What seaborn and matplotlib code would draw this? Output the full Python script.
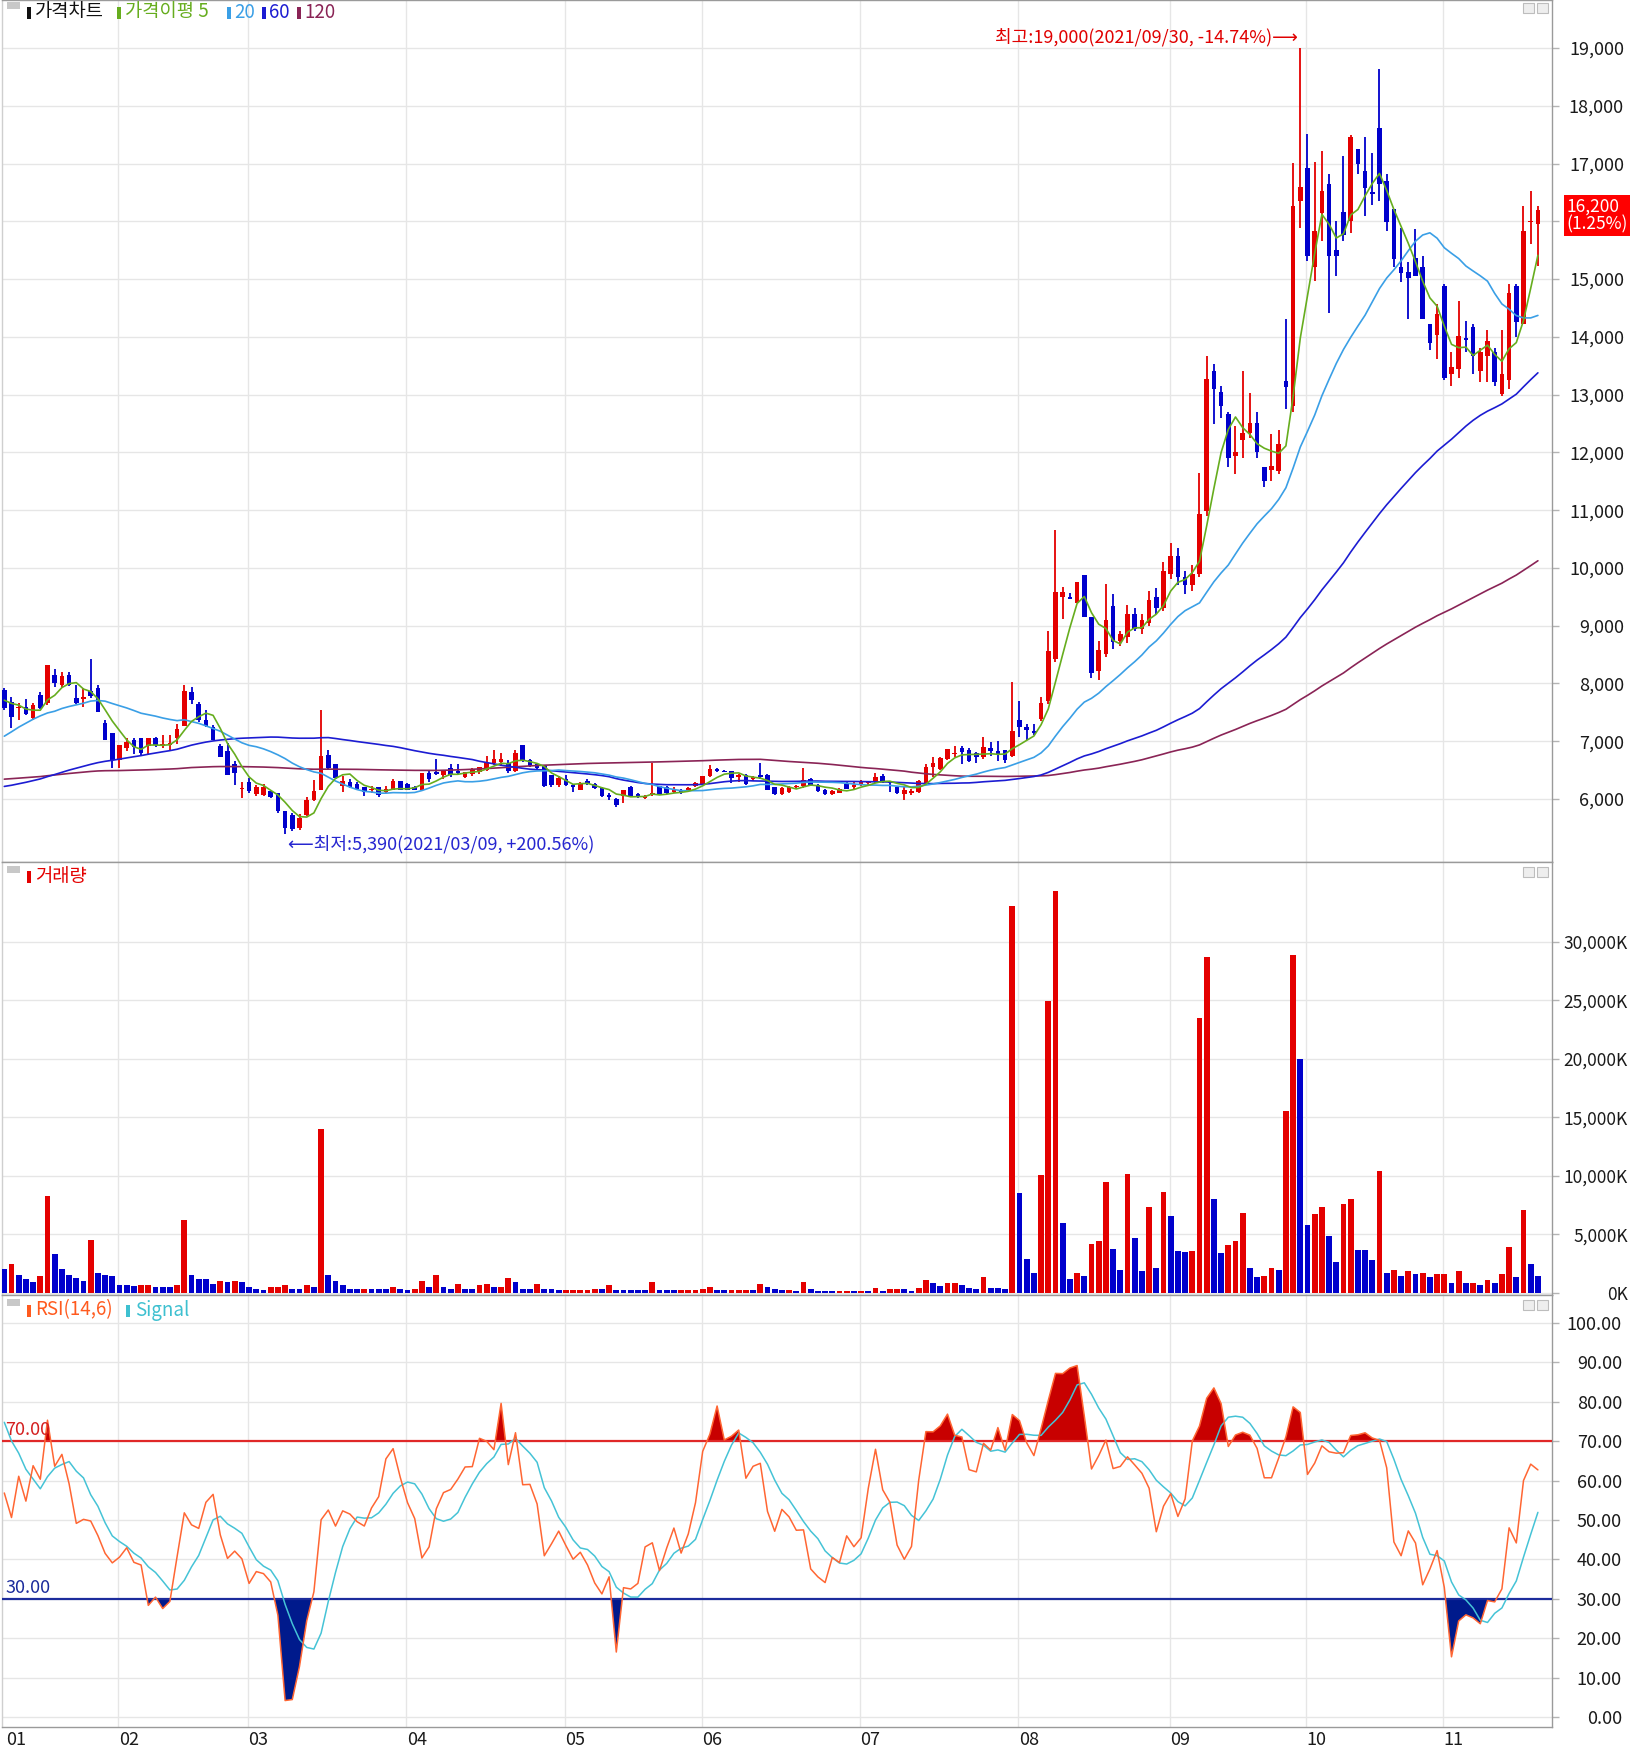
import numpy as np
import pandas as pd
import matplotlib
matplotlib.use("Agg")
import matplotlib.pyplot as plt
import matplotlib.transforms as mtrans
from matplotlib.patches import Rectangle
import seaborn as sns

sns.set_theme(style="white")
plt.rcParams["font.family"] = ["Noto Sans CJK KR", "DejaVu Sans"]
plt.rcParams["axes.unicode_minus"] = False

# ---------------- data ----------------
month_labels = ["01", "02", "03", "04", "05", "06", "07", "08", "09", "10", "11"]
month_days = [16, 18, 22, 22, 19, 22, 22, 21, 19, 19, 14]

# closes before the visible window (Jul-Dec 2020), estimated from the indicator start levels
prior_close = [
    6500, 6450, 6380, 6420, 6550, 6600, 6520, 6480, 6400, 6350,
    6300, 6380, 6450, 6520, 6600, 6680, 6620, 6550, 6500, 6470,
    6420, 6380, 6450, 6520, 6580, 6650, 6700, 6620, 6540, 6480,
    6430, 6400, 6350, 6420, 6480, 6550, 6500, 6450, 6400, 6380,
    6420, 6470, 6520, 6560, 6500, 6440, 6400, 6360, 6330, 6380,
    6430, 6480, 6520, 6470, 6420, 6380, 6350, 6400, 6450, 6500,
    6200, 6050, 5950, 5880, 5820, 5900, 5850, 5780, 5720, 5680,
    5750, 5800, 5720, 5650, 5600, 5680, 5750, 5700, 5640, 5600,
    5660, 5720, 5780, 5740, 5690, 5650, 5700, 5760, 5820, 5780,
    5730, 5700, 5760, 5830, 5880, 5850, 5800, 5860, 5920, 5980,
    5900, 6000, 6100, 6250, 6400, 7312, 7400, 7180, 7280, 7100,
    7180, 7050, 7300, 7250, 7500, 7700, 7750, 7800, 7730,
]

open_ = [
    # Jan
    7885, 7684, 7570, 7600, 7397, 7800, 7655, 8155, 7971, 8144, 7740, 7730, 7868, 7914, 7310, 7138,
    # Feb
    6678, 6891, 7023, 7052, 6925, 7063, 6925, 6940, 7052, 7270, 7845, 7638, 7368, 7253, 6925, 6833, 6603, 6170,
    # Mar
    6293, 6086, 6075, 6144, 6104, 5787, 5718, 5500, 5730, 5990, 6163, 6770, 6607, 6221, 6296, 6260, 6204, 6150,
    6204, 6130, 6163, 6320,
    # Apr
    6260, 6210, 6163, 6452, 6470, 6420, 6538, 6480, 6380, 6430, 6460, 6510, 6625, 6640, 6625, 6480, 6940, 6680,
    6600, 6567, 6411, 6250,
    # May
    6354, 6250, 6163, 6320, 6260, 6190, 6060, 6007, 6048, 6204, 6080, 6020, 6080, 6221, 6200, 6130, 6150, 6150, 6220,
    # Jun
    6261, 6394, 6527, 6490, 6480, 6380, 6423, 6340, 6420, 6423, 6200, 6080, 6120, 6200, 6221, 6350, 6250, 6160,
    6080, 6110, 6260, 6200,
    # Jul
    6250, 6270, 6296, 6406, 6300, 6205, 6089, 6110, 6118, 6274, 6550, 6522, 6695, 6780, 6880, 6850, 6800, 6735,
    6890, 6830, 6840, 6752,
    # Aug
    7369, 7250, 7180, 7386, 7690, 8424, 9490, 9490, 9386, 9882, 9156, 8222, 8510, 9345, 8740, 8800, 9200, 8950,
    9050, 9500, 9300,
    # Sep
    9900, 10200, 9850, 9700, 9900, 10990, 13410, 13050, 12660, 11930, 12210, 12340, 12500, 11750, 11700, 11680,
    13230, 12800, 16350,
    # Oct
    16925, 15200, 16150, 16650, 15510, 16160, 16000, 17250, 16870, 16500, 17620, 16700, 16220, 15200, 15120, 15370,
    15200, 14220, 14040,
    # Nov
    14880, 13350, 13450, 13980, 14170, 13410, 13670, 13740, 13010, 13250, 14880, 14220, 15990, 15950,
]

high_ = [
    7920, 7770, 7655, 7730, 7660, 7845, 8316, 8258, 8190, 8190, 7971, 7914, 8431, 7971, 7368, 7138,
    6937, 7050, 7050, 7060, 7060, 7080, 7110, 7100, 7290, 7971, 7943, 7680, 7540, 7280, 6960, 6965, 6650, 6290,
    6360, 6250, 6260, 6144, 6104, 5787, 5750, 5740, 6030, 6330, 7548, 6856, 6607, 6394, 6340, 6300, 6204, 6220,
    6204, 6230, 6340, 6320,
    6270, 6230, 6452, 6480, 6700, 6500, 6600, 6600, 6470, 6540, 6560, 6740, 6840, 6800, 6680, 6840, 6940, 6700,
    6620, 6567, 6420, 6400,
    6420, 6260, 6300, 6340, 6270, 6200, 6110, 6010, 6163, 6220, 6110, 6070, 6625, 6221, 6220, 6210, 6170, 6210, 6290,
    6400, 6590, 6540, 6500, 6480, 6440, 6440, 6400, 6630, 6430, 6210, 6200, 6230, 6250, 6540, 6360, 6260, 6170,
    6150, 6190, 6290, 6290,
    6330, 6310, 6450, 6430, 6310, 6215, 6200, 6180, 6330, 6610, 6720, 6720, 6868, 6920, 6910, 6880, 6810, 7080,
    6990, 7000, 6850, 8020,
    7700, 7300, 7300, 7772, 8902, 10654, 9674, 9570, 9749, 9882, 9156, 8730, 9720, 9550, 8900, 9350, 9300, 9200,
    9600, 9650, 10100,
    10440, 10350, 9950, 10050, 11650, 13670, 13530, 13150, 12700, 12460, 13410, 13020, 12700, 11750, 12320, 12380,
    14310, 17010, 19000,
    17510, 17030, 17220, 16810, 16010, 17130, 17500, 17250, 17460, 17180, 18630, 16810, 16220, 15890, 15300, 15860,
    15400, 14220, 14560,
    14910, 13730, 14620, 14270, 14220, 13800, 14110, 13800, 14110, 14910, 14910, 16260, 16520, 16260,
]

low_ = [
    7540, 7236, 7368, 7460, 7370, 7560, 7626, 7943, 7914, 7960, 7650, 7600, 7753, 7500, 7023, 6534,
    6534, 6830, 6780, 6750, 6760, 6900, 6880, 6850, 6960, 7270, 7650, 7340, 7250, 7023, 6736, 6408, 6247, 6020,
    6100, 6060, 6050, 6010, 5760, 5390, 5450, 5460, 5700, 5960, 6163, 6510, 6340, 6123, 6190, 6170, 6050, 6110,
    6030, 6100, 6150, 6150,
    6150, 6150, 6150, 6300, 6420, 6350, 6380, 6440, 6360, 6400, 6440, 6480, 6590, 6580, 6450, 6470, 6640, 6560,
    6520, 6200, 6200, 6210,
    6220, 6120, 6150, 6240, 6180, 6040, 5980, 5870, 5930, 6040, 6020, 6000, 6060, 6080, 6090, 6110, 6080, 6130, 6200,
    6250, 6380, 6460, 6460, 6280, 6290, 6250, 6320, 6350, 6150, 6070, 6070, 6110, 6190, 6190, 6230, 6120, 6070,
    6070, 6100, 6170, 6160,
    6230, 6240, 6270, 6280, 6130, 6080, 5990, 6070, 6100, 6240, 6380, 6500, 6680, 6720, 6600, 6640, 6620, 6700,
    6740, 6650, 6620, 6730,
    7080, 7020, 7100, 7350, 7650, 8380, 9110, 9460, 9386, 9156, 8100, 8060, 8450, 8600, 8650, 8700, 8900, 8850,
    9000, 9200, 9250,
    9800, 9700, 9550, 9600, 9850, 10900, 12490, 12600, 11740, 11620, 11900, 12250, 11900, 11400, 11500, 11630,
    12750, 12700, 15890,
    15310, 14970, 15660, 14420, 15050, 15660, 15800, 16820, 16090, 16290, 16350, 15830, 15200, 14950, 14300, 15050,
    14300, 13780, 13610,
    13250, 13150, 13290, 13730, 13350, 13210, 13210, 13150, 12980, 13090, 13990, 14220, 15600, 15230,
]

close_ = [
    7570, 7425, 7600, 7465, 7626, 7570, 8316, 8000, 8132, 7971, 7655, 7760, 7787, 7500, 7023, 6678,
    6937, 6983, 6908, 6793, 7052, 6937, 6960, 6960, 7213, 7868, 7713, 7368, 7270, 7023, 6736, 6408, 6448, 6190,
    6132, 6201, 6201, 6029, 5787, 5500, 5488, 5673, 5990, 6146, 6740, 6540, 6365, 6308, 6210, 6180, 6123, 6180,
    6065, 6170, 6320, 6163,
    6163, 6160, 6452, 6350, 6440, 6490, 6410, 6450, 6460, 6520, 6550, 6625, 6700, 6700, 6480, 6800, 6680, 6580,
    6540, 6220, 6238, 6365,
    6250, 6200, 6279, 6260, 6190, 6048, 6040, 5892, 6163, 6048, 6060, 6060, 6100, 6088, 6110, 6160, 6120, 6190, 6280,
    6394, 6527, 6480, 6470, 6365, 6420, 6261, 6380, 6380, 6163, 6090, 6190, 6210, 6220, 6336, 6250, 6140, 6080,
    6140, 6170, 6180, 6250,
    6290, 6290, 6377, 6308, 6280, 6100, 6159, 6140, 6320, 6562, 6620, 6712, 6868, 6800, 6820, 6654, 6720, 6896,
    6830, 6770, 6677, 7184,
    7242, 7200, 7150, 7657, 8556, 9576, 9576, 9470, 9749, 9156, 8176, 8580, 9098, 8711, 8855, 9200, 8950, 9100,
    9450, 9300, 9950,
    10200, 9850, 9700, 9900, 10930, 13265, 13090, 12800, 11900, 12010, 12340, 12500, 12000, 11510, 11760, 12150,
    13140, 16260, 16590,
    15400, 15830, 16520, 15400, 15400, 15770, 17460, 16990, 16580, 16470, 16640, 15990, 15340, 15110, 15010, 15050,
    14300, 13900, 14390,
    13290, 13470, 14010, 13950, 13670, 13730, 13920, 13210, 13350, 14760, 14260, 15830, 16000, 16200,
]

volume_k = [
    2060, 2490, 1570, 1170, 915, 1430, 8300, 3350, 2060, 1570,
    1290, 1030, 4500, 1690, 1570, 1430, 660, 650, 640, 660,
    670, 520, 510, 500, 660, 6200, 1540, 1170, 1160, 770,
    1030, 915, 1030, 915, 515, 370, 260, 515, 520, 660,
    370, 360, 660, 515, 14000, 1540, 1030, 660, 370, 360,
    370, 365, 360, 355, 515, 370, 260, 370, 1030, 515,
    1540, 515, 370, 770, 370, 365, 660, 770, 515, 520,
    1290, 915, 370, 365, 770, 370, 360, 260, 265, 270,
    275, 280, 370, 365, 660, 260, 255, 250, 245, 240,
    915, 260, 255, 250, 255, 260, 265, 370, 515, 260,
    255, 260, 265, 270, 260, 770, 515, 370, 260, 265,
    200, 965, 340, 200, 195, 190, 200, 205, 200, 210,
    200, 450, 200, 340, 345, 340, 200, 450, 1080, 850,
    600, 850, 855, 710, 450, 340, 1360, 450, 445, 340,
    33030, 8520, 2920, 1730, 10050, 24960, 34300, 5960, 1220, 1730,
    1480, 4170, 4430, 9510, 3800, 1990, 10170, 4690, 1850, 7360,
    2130, 8630, 6590, 3550, 3540, 3550, 23460, 28680, 8010, 3410,
    4060, 4430, 6840, 2130, 1360, 1480, 2130, 1990, 15530, 28830,
    19990, 5820, 6730, 7360, 4830, 2640, 7610, 8010, 3690, 3680,
    2780, 10420, 1730, 1990, 1480, 1870, 1620, 1730, 1360, 1620,
    1630, 850, 1870, 850, 860, 710, 1110, 850, 1620, 3920,
    1360, 7130, 2500, 1480,
]

n = sum(month_days)
for name, arr in [("open", open_), ("high", high_), ("low", low_), ("close", close_), ("vol", volume_k)]:
    if len(arr) != n:
        raise ValueError(f"{name} has {len(arr)} values, expected {n}")

# ---------------- derived ----------------
o = np.array(open_, float)
h = np.array(high_, float)
l = np.array(low_, float)
c = np.array(close_, float)
v = np.array(volume_k, float)
x = np.arange(n)
month_starts = np.concatenate([[0], np.cumsum(month_days)[:-1]])

allc = pd.Series(np.concatenate([prior_close, close_]).astype(float))
npre = len(prior_close)
ma = {w: allc.rolling(w).mean().to_numpy()[npre:] for w in (5, 20, 60, 120)}
d = allc.diff()
ag = d.clip(lower=0).rolling(14).mean()
al = (-d.clip(upper=0)).rolling(14).mean()
rsi_all = 100 * ag / (ag + al)
sig_all = rsi_all.rolling(6).mean()
rsi = rsi_all.to_numpy()[npre:]
sig = sig_all.to_numpy()[npre:]

RED = "#e40000"
BLUE = "#0000cc"
C5, C20, C60, C120 = "#66ad1e", "#3a9fe6", "#1c1cd2", "#8a2456"
GRID = "#e6e6e6"
SPINE = "#9a9a9a"

# ---------------- layout ----------------
W, H = 1630, 1751
fig = plt.figure(figsize=(W / 100, H / 100), dpi=100)
fig.patch.set_facecolor("white")


def fx(px):
    return px / W


def fy(py):
    return 1 - py / H


L, R = 2, 1552
ax_p = fig.add_axes([fx(L), fy(862), fx(R - L), 862 / H])
ax_v = fig.add_axes([fx(L), fy(1295), fx(R - L), (1295 - 862) / H], sharex=ax_p)
ax_r = fig.add_axes([fx(L), fy(1727), fx(R - L), (1727 - 1295) / H], sharex=ax_p)

xmin, xmax = (L - 4.3) / 7.2, (R - 4.3) / 7.2

for ax in (ax_p, ax_v, ax_r):
    ax.set_facecolor("white")
    for m in month_starts[1:]:
        ax.axvline(m - 0.15, color=GRID, lw=1.0, zorder=0)
    for s in ax.spines.values():
        s.set_color(SPINE)
        s.set_linewidth(1.0)
    ax.spines["left"].set_color("#cfcfcf")
    ax.tick_params(axis="x", bottom=False, labelbottom=False, top=False)

# ---------------- price ----------------
up = c >= o
ccol = np.where(up, RED, BLUE)
ax_p.vlines(x, l, h, colors=ccol, lw=1.3, zorder=3)
body = np.maximum(np.abs(c - o), 22)
ax_p.bar(x, body, bottom=np.minimum(o, c), width=0.62, color=ccol, linewidth=0, zorder=4)

df = pd.DataFrame({"idx": x, "ma5": ma[5], "ma20": ma[20], "ma60": ma[60], "ma120": ma[120]})
for col, colr, lw in [("ma120", C120, 1.2), ("ma60", C60, 1.2), ("ma20", C20, 1.2), ("ma5", C5, 1.2)]:
    sns.lineplot(data=df, x="idx", y=col, ax=ax_p, color=colr, lw=lw, zorder=5, legend=False)

p_ticks = np.arange(6000, 19001, 1000)
for t in p_ticks:
    ax_p.axhline(t, color=GRID, lw=1.0, zorder=0)
ax_p.set_ylim(4910, 19830)

imax = int(np.argmax(h))
imin = int(np.argmin(l))
last = c[-1]
ax_p.text(imax - 0.4, 19190,
          f"최고:{h[imax]:,.0f}(2021/09/30, {(last / h[imax] - 1) * 100:.2f}%)⟶",
          color="#e00000", ha="right", va="center", fontsize=13, zorder=6)
ax_p.text(imin + 0.4, 5221,
          f"⟵최저:{l[imin]:,.0f}(2021/03/09, +{(last / l[imin] - 1) * 100:.2f}%)",
          color="#2626d0", ha="left", va="center", fontsize=13, zorder=6)

trans_p = mtrans.blended_transform_factory(ax_p.transAxes, ax_p.transData)
ax_p.annotate(f"{last:,.0f}\n({(last / c[-2] - 1) * 100:.2f}%)", xy=(1.0095, last), xycoords=trans_p,
              xytext=(0, 9), textcoords="offset points", ha="left", va="top",
              color="white", fontsize=12.5, linespacing=1.0, annotation_clip=False, zorder=10,
              bbox=dict(boxstyle="square,pad=0.15", fc="#ff0000", ec="none"))

# ---------------- volume ----------------
vcol = [BLUE] + [RED if v[i] > v[i - 1] else BLUE for i in range(1, n)]
ax_v.bar(x, v, width=0.78, color=vcol, linewidth=0, zorder=3)
v_ticks = np.arange(0, 30001, 5000)
for t in v_ticks:
    ax_v.axhline(t, color=GRID, lw=1.0, zorder=0)
ax_v.set_ylim(-170, 36800)

# ---------------- RSI ----------------
r_ticks = np.arange(0, 101, 10)
for t in r_ticks:
    ax_r.axhline(t, color=GRID, lw=1.0, zorder=0)
ax_r.fill_between(x, rsi, 70, where=rsi >= 70, interpolate=True, color="#c80000", lw=0, zorder=2)
ax_r.fill_between(x, rsi, 30, where=rsi <= 30, interpolate=True, color="#001a8c", lw=0, zorder=2)
rdf = pd.DataFrame({"idx": x, "rsi": rsi, "sig": sig})
sns.lineplot(data=rdf, x="idx", y="sig", ax=ax_r, color="#45c3d6", lw=1.1, zorder=4, legend=False)
sns.lineplot(data=rdf, x="idx", y="rsi", ax=ax_r, color="#ff6633", lw=1.1, zorder=5, legend=False)
ax_r.axhline(70, color="#e02828", lw=1.6, zorder=3)
ax_r.axhline(30, color="#1c2c9c", lw=1.6, zorder=3)
ax_r.set_ylim(-2.5, 107.1)
tr_r = mtrans.blended_transform_factory(ax_r.transAxes, ax_r.transData)
ax_r.text(0.002, 70.6, "70.00", transform=tr_r, color="#d42020", fontsize=13, ha="left", va="bottom", zorder=6)
ax_r.text(0.002, 30.6, "30.00", transform=tr_r, color="#1c2c9c", fontsize=13, ha="left", va="bottom", zorder=6)


# ---------------- axes ticks on right ----------------
def right_ticks(ax, ticks, labels, right_px, size=13):
    ax.set_yticks(ticks)
    ax.set_yticklabels(labels)
    ax.yaxis.tick_right()
    pad_pts = (right_px - R - 7) / (100 / 72)
    ax.tick_params(axis="y", right=True, left=False, labelleft=False, labelright=True,
                   length=5, width=1, color="#b4b4b4", pad=pad_pts, labelsize=size, labelcolor="#1a1a1a")
    for lab in ax.get_yticklabels():
        lab.set_horizontalalignment("right")


right_ticks(ax_p, p_ticks, [f"{t:,.0f}" for t in p_ticks], 1624)
right_ticks(ax_v, v_ticks, [f"{t:,.0f}K" for t in v_ticks], 1628, size=12.5)
right_ticks(ax_r, r_ticks, [f"{t:.2f}" for t in r_ticks], 1622)
# the last-price tag covers the nearby price label
for t, lab in zip(p_ticks, ax_p.get_yticklabels()):
    if abs(t - last) < 500:
        lab.set_visible(False)

for ax in (ax_p, ax_v, ax_r):
    ax.set_xlabel("")
    ax.set_ylabel("")
ax_p.set_xlim(xmin, xmax)

# month labels
trans_r = mtrans.blended_transform_factory(ax_r.transData, ax_r.transAxes)
for k, (lab, ms) in enumerate(zip(month_labels, month_starts)):
    ax_r.text(ms - 0.1 if k > 0 else 0.2, -0.03, lab, transform=trans_r, ha="left", va="center",
              fontsize=13, color="#1a1a1a", clip_on=False)


# ---------------- headers ----------------
def marker(px, py, color):
    fig.patches.append(Rectangle((fx(px), fy(py + 6)), 4 / W, 12 / H, transform=fig.transFigure,
                                 facecolor=color, edgecolor="none"))


def tab(py):
    fig.patches.append(Rectangle((fx(7), fy(py + 7)), 13 / W, 7 / H, transform=fig.transFigure,
                                 facecolor="#c8c8c8", edgecolor="none"))


def icons(py):
    for px in (1523, 1537):
        fig.patches.append(Rectangle((fx(px), fy(py + 10)), 11 / W, 10 / H, transform=fig.transFigure,
                                     facecolor="#eeeeee", edgecolor="#bdbdbd", lw=0.8))


def htext(px, py, s, color):
    fig.text(fx(px), fy(py), s, color=color, fontsize=13.5, ha="left", va="center")


tab(2)
marker(27, 13, "#111111"); htext(35, 12, "가격차트", "#111111")
marker(117, 13, C5); htext(125, 12, "가격이평 5", C5)
marker(227, 13, C20); htext(234, 12, "20", C20)
marker(262, 13, C60); htext(269, 12, "60", C60)
marker(297, 13, C120); htext(304, 12, "120", C120)
icons(3)

tab(866)
marker(27, 877, RED); htext(35, 876, "거래량", RED)
icons(867)

tab(1299)
marker(27, 1311, "#ff5a1e"); htext(35, 1310, "RSI(14,6)", "#ff5a1e")
marker(126, 1311, "#3ec0d0"); htext(135, 1310, "Signal", "#3ec0d0")
icons(1300)

fig.savefig("out.png", dpi=100, facecolor="white")
